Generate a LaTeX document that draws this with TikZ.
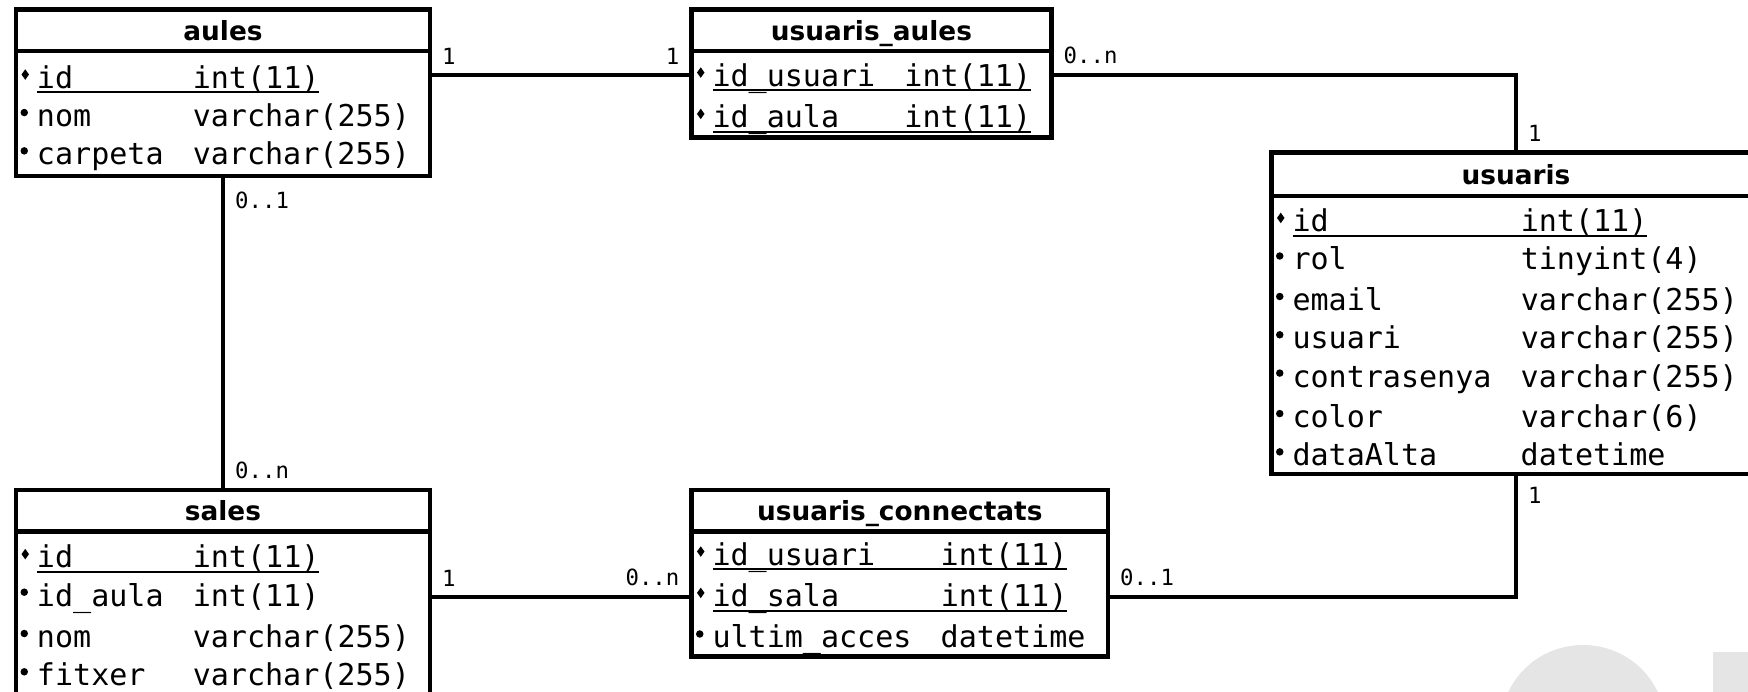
\documentclass[tikz,border=0pt]{standalone}
\usepackage{fontspec}
\setmainfont{DejaVu Sans}
\setmonofont{DejaVu Sans Mono}
\usetikzlibrary{positioning}
\newlength\namew
\newsavebox\keybox
\newcommand\rowstrut{\rule[-0.1cm]{0pt}{0.75cm}}
\newcommand\keyline[1]{\sbox\keybox{#1}\rlap{\rule[-0.1cm]{\wd\keybox}{0.04cm}}\usebox\keybox}
\newcommand\dotmark{\makebox[0.42cm][l]{\hspace{0.09cm}\tikz[baseline]\fill (0,0.28) circle (0.075);}}
\newcommand\keymark{\makebox[0.42cm][l]{\hspace{0.11cm}\tikz[baseline]\fill (0,0.17) -- (0.075,0.275) -- (0,0.38) -- (-0.075,0.275) -- cycle;}}
\newcommand\pk[2]{\keymark\keyline{\makebox[\namew][l]{#1}#2}\rowstrut}
\newcommand\fd[2]{\dotmark\makebox[\namew][l]{#1}#2\rowstrut}
\tikzset{
	tabhead/.style={draw, line width=2.5pt, outer sep=0pt, anchor=north west, minimum height=0.83cm, text height=0.42cm, text depth=0.02cm, font=\bfseries\fontsize{15}{18}\selectfont},
	tabrows/.style={draw, line width=2.5pt, outer sep=0pt, inner sep=0pt, align=left, font=\ttfamily\fontsize{17.1}{21.79}\selectfont},
	link/.style={line width=2.5pt},
	mult/.style={font=\ttfamily\fontsize{12.7}{15}\selectfont, inner xsep=0.2cm, inner ysep=0.17cm},
}
\begin{document}
\begin{tikzpicture}
			%%%%% START %%%%%
			\useasboundingbox (0,0) rectangle (34.96,-13.84);
			\clip (0,0) rectangle (34.96,-13.84);
			
			\fill[black!10] (31.66,-14.5) ellipse (1.64 and 1.6);
			\fill[black!10] (34.26,-13.04) rectangle (35.5,-14.5);
			
			\setlength{\namew}{3.116cm}
			\node[tabhead, minimum width=8.28cm] (aules) at (0.32,-0.19) {aules};
			\node[tabrows, text width=8.28cm, minimum height=2.498cm, below=0pt of aules] (aules-rows)
				{\pk{id}{int(11)}\\\fd{nom}{varchar(255)}\\\fd{carpeta}{varchar(255)}};
			
			\setlength{\namew}{3.84cm}
			\node[tabhead, minimum width=7.2cm] (ua) at (13.83,-0.19) {usuaris\_aules};
			\node[tabrows, text width=7.2cm, minimum height=1.732cm, below=0pt of ua] (ua-rows)
				{\pk{id\_usuari}{int(11)}\\\pk{id\_aula}{int(11)}};
			
			\setlength{\namew}{4.565cm}
			\node[tabhead, minimum width=9.78cm, minimum height=0.87cm] (usuaris) at (25.43,-3.05) {usuaris};
			\node[tabrows, text width=9.78cm, minimum height=5.562cm, below=0pt of usuaris] (usuaris-rows)
				{\pk{id}{int(11)}\\\fd{rol}{tinyint(4)}\\\fd{email}{varchar(255)}\\\fd{usuari}{varchar(255)}\\
				 \fd{contrasenya}{varchar(255)}\\\fd{color}{varchar(6)}\\\fd{dataAlta}{datetime}};
			
			\setlength{\namew}{3.116cm}
			\node[tabhead, minimum width=8.28cm] (sales) at (0.32,-9.8) {sales};
			\node[tabrows, text width=8.28cm, minimum height=3.264cm, below=0pt of sales] (sales-rows)
				{\pk{id}{int(11)}\\\fd{id\_aula}{int(11)}\\\fd{nom}{varchar(255)}\\\fd{fitxer}{varchar(255)}};
			
			\setlength{\namew}{4.565cm}
			\node[tabhead, minimum width=8.33cm] (uc) at (13.83,-9.8) {usuaris\_connectats};
			\node[tabrows, text width=8.33cm, minimum height=2.498cm, below=0pt of uc] (uc-rows)
				{\pk{id\_usuari}{int(11)}\\\pk{id\_sala}{int(11)}\\\fd{ultim\_acces}{datetime}};
			
			% relations
			\draw[link] ([yshift=-1.31cm]aules.north east) --
				node[mult, pos=0, anchor=south west] (m-aules-ua) {1}
				node[mult, pos=1, anchor=south east] (m-ua-aules) {1} ([yshift=-1.31cm]ua.north west);
			\draw[link] ([yshift=-1.31cm]ua.north east) -|
				node[mult, pos=0, anchor=south west] (m-ua-usuaris) {0..n}
				node[mult, pos=1, anchor=south west] (m-usuaris-ua) {1} (usuaris.north);
			\draw[link] (aules-rows.south) --
				node[mult, pos=0, anchor=north west, yshift=-0.1cm] (m-aules-sales) {0..1}
				node[mult, pos=1, anchor=south west] (m-sales-aules) {0..n} (sales.north);
			\draw[link] ([yshift=-2.14cm]sales.north east) --
				node[mult, pos=0, anchor=south west] (m-sales-uc) {1}
				node[mult, pos=1, anchor=south east] (m-uc-sales) {0..n} ([yshift=-2.14cm]uc.north west);
			\draw[link] ([yshift=-2.14cm]uc.north east) -|
				node[mult, pos=0, anchor=south west] (m-uc-usuaris) {0..1}
				node[mult, pos=1, anchor=north west, yshift=-0.05cm] (m-usuaris-uc) {1} (usuaris-rows.south);
			
			%%%%% END %%%%%
\end{tikzpicture}
\end{document}
